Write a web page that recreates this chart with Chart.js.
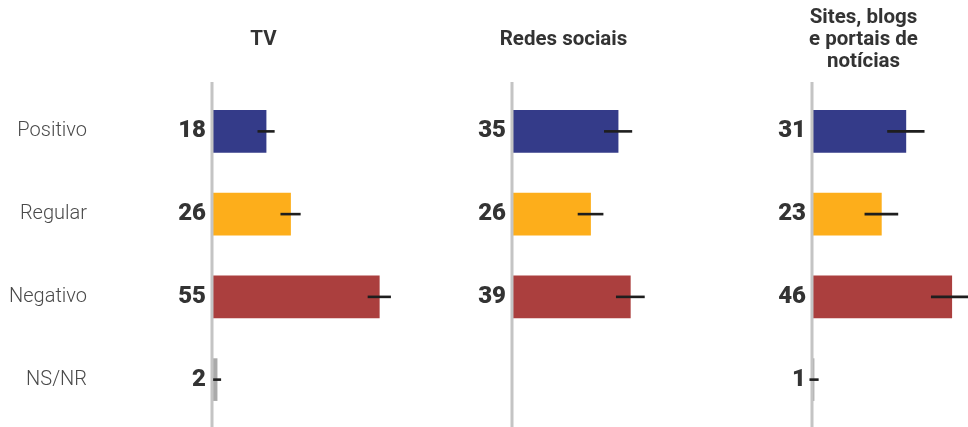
<!DOCTYPE html>
<html>
<head>
<meta charset="utf-8">
<script src="https://cdn.jsdelivr.net/npm/chart.js@4"></script>
<style>
  html, body { margin: 0; padding: 0; background: #ffffff; overflow: hidden; }
  #wrap { position: relative; width: 968px; height: 427px; }
  canvas { position: absolute; top: 0; }
</style>
</head>
<body>
<div id="wrap">
  <canvas id="tv" width="440" height="427" style="left:0px"></canvas>
  <canvas id="redes" width="300" height="427" style="left:440px"></canvas>
  <canvas id="sites" width="228" height="427" style="left:740px"></canvas>
</div>
<script>
// ---- data ----
const categories = ['Positivo', 'Regular', 'Negativo', 'NS/NR'];
const tvTitle = ['TV'];
const redesTitle = ['Redes sociais'];
const sitesTitle = ['Sites, blogs', 'e portais de', 'notícias'];
const tvValues = [18, 26, 55, 2];
const redesValues = [35, 26, 39, null];
const sitesValues = [31, 23, 46, 1];
const tvErrors = [2.8, 3.3, 3.8, 1.3];
const redesErrors = [4.6, 4.2, 4.7, null];
const sitesErrors = [6.1, 5.5, 6.8, 1.5];
const barColors = ['#343b89', '#fdae1b', '#ab3f3e', '#aaaaaa'];

// ---- style ----
const PX_PER_UNIT = 3.06;
const FONT = 'Roboto, "Noto Sans", sans-serif';

function makePanel(id, values, errors, titleLines, showCategories, canvasWidth) {
  const valueAxisWidth = showCategories ? 90 : 71;
  const catAxisWidth = showCategories ? 121 : 0;
  const areaWidth = canvasWidth - valueAxisWidth - catAxisWidth;
  const xMax = areaWidth / PX_PER_UNIT;

  const fixAxis = (w) => (s) => {
    s.width = w;
    s.paddingTop = 0;
    s.paddingBottom = 0;
  };

  const scales = {
    x: { type: 'linear', min: 0, max: xMax, display: false },
    y: {
      type: 'category',
      position: 'left',
      offset: true,
      weight: 0,
      grid: { display: false, drawTicks: false },
      border: { display: false },
      ticks: {
        padding: 5,
        color: '#333333',
        font: { family: FONT, size: 24, weight: '900' },
        callback: (v, i) => (values[i] == null ? '' : String(values[i]))
      },
      afterFit: fixAxis(valueAxisWidth)
    }
  };
  if (showCategories) {
    scales.yCat = {
      type: 'category',
      position: 'left',
      labels: categories,
      offset: true,
      weight: 1,
      grid: { display: false, drawTicks: false },
      border: { display: false },
      ticks: {
        padding: catAxisWidth - 87,
        color: '#4a4a4a',
        font: { family: FONT, size: 20, weight: '300' }
      },
      afterFit: fixAxis(catAxisWidth)
    };
  }

  const decor = {
    id: 'decor_' + id,
    afterDatasetsDraw(chart) {
      const ctx = chart.ctx;
      const xs = chart.scales.x;
      const left = chart.chartArea.left;
      // axis line
      ctx.save();
      ctx.strokeStyle = '#c4c4c4';
      ctx.lineWidth = 3;
      ctx.beginPath();
      ctx.moveTo(left + 1, 82);
      ctx.lineTo(left + 1, 427);
      ctx.stroke();
      // error bars
      const meta = chart.getDatasetMeta(0);
      ctx.strokeStyle = '#1e1e1e';
      ctx.lineWidth = 2.6;
      meta.data.forEach((bar, i) => {
        if (values[i] == null || errors[i] == null) return;
        const x1 = xs.getPixelForValue(values[i] - errors[i]);
        const x2 = xs.getPixelForValue(values[i] + errors[i]);
        ctx.beginPath();
        ctx.moveTo(x1, bar.y);
        ctx.lineTo(x2, bar.y);
        ctx.stroke();
      });
      ctx.restore();
    },
    afterDraw(chart) {
      const ctx = chart.ctx;
      const cx = chart.chartArea.left + 52.5;
      ctx.save();
      ctx.fillStyle = '#333333';
      ctx.font = 'bold 20.5px ' + FONT;
      ctx.textAlign = 'center';
      ctx.textBaseline = 'alphabetic';
      const n = titleLines.length;
      titleLines.forEach((line, i) => {
        ctx.fillText(line, cx, 45 + (i - (n - 1) / 2) * 21.7);
      });
      ctx.restore();
    }
  };

  return new Chart(document.getElementById(id), {
    type: 'bar',
    data: {
      labels: categories,
      datasets: [{
        data: values,
        backgroundColor: barColors,
        borderWidth: 0,
        barThickness: 42,
        xAxisID: 'x',
        yAxisID: 'y'
      }]
    },
    options: {
      indexAxis: 'y',
      responsive: false,
      animation: false,
      layout: { padding: { top: 90, bottom: 6, left: 0, right: 0 } },
      scales: scales,
      plugins: {
        legend: { display: false },
        tooltip: { enabled: false },
        title: { display: false }
      }
    },
    plugins: [decor]
  });
}

function build() {
  makePanel('tv', tvValues, tvErrors, tvTitle, true, 440);
  makePanel('redes', redesValues, redesErrors, redesTitle, false, 300);
  makePanel('sites', sitesValues, sitesErrors, sitesTitle, false, 228);
}

Promise.all([
  document.fonts.load('900 24px Roboto'),
  document.fonts.load('bold 20px Roboto'),
  document.fonts.load('300 20px Roboto'),
  document.fonts.load('20px Roboto')
]).then(build, build);
</script>
</body>
</html>
